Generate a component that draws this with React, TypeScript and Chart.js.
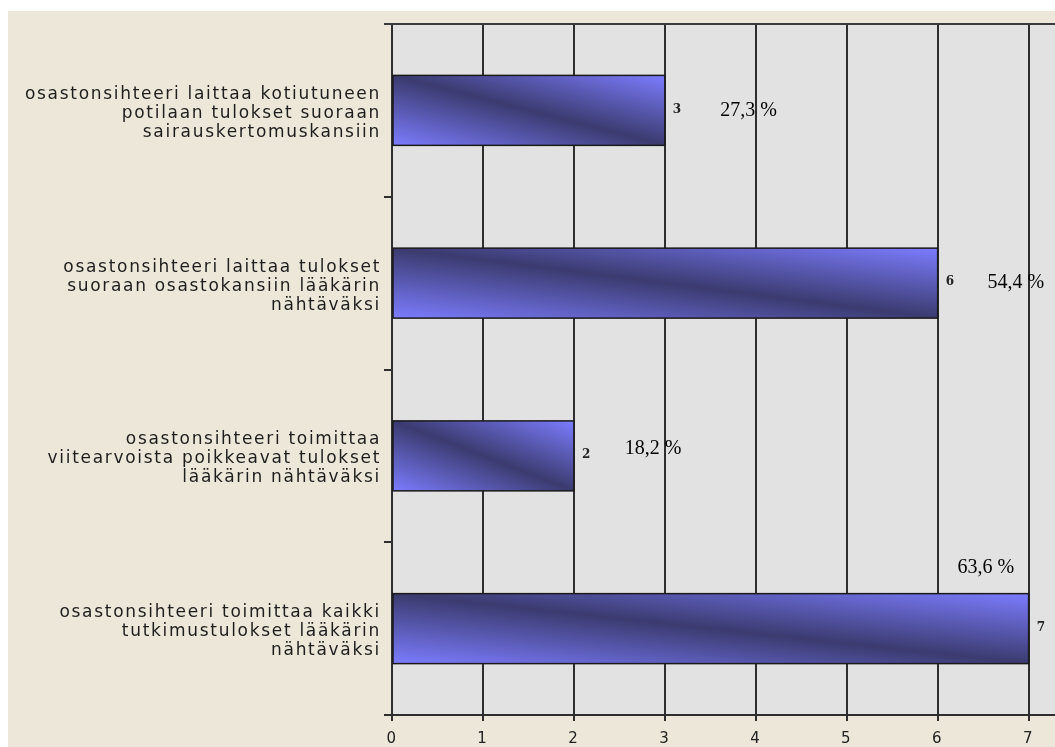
import React, { useEffect, useRef } from 'react';
import { Chart, registerables } from 'chart.js';

Chart.register(...registerables);

// ---- data ----
const categories: string[][] = [
  ['osastonsihteeri laittaa kotiutuneen', 'potilaan tulokset suoraan', 'sairauskertomuskansiin'],
  ['osastonsihteeri laittaa tulokset', 'suoraan osastokansiin lääkärin', 'nähtäväksi'],
  ['osastonsihteeri toimittaa', 'viitearvoista poikkeavat tulokset', 'lääkärin nähtäväksi'],
  ['osastonsihteeri toimittaa kaikki', 'tutkimustulokset lääkärin', 'nähtäväksi'],
];
const counts: number[] = [3, 6, 2, 7];
const percentLabels: string[] = ['27,3 %', '54,4 %', '18,2 %', '63,6 %'];
// anchors of the percent annotations, in axis units (x value, category offset)
const percentAnchorX: number[] = [3.92, 6.86, 2.87, 6.53];
const percentAnchorY: number[] = [0.0, -0.005, -0.04, -0.35];
const xTicks: number[] = [0, 1, 2, 3, 4, 5, 6, 7];
const xMin = 0;
const xMax = 7.29;

const BEIGE = '#ede7d9';
const PLOT_BG = '#e2e2e2';
const LINE = '#2e2e2e';
const LIGHT = '#7c7cff';
const DARK = '#3b3b70';
const LETTER_SPACING = '1.7px';

const plotBgPlugin = {
  id: 'plotBg',
  beforeDraw(chart: any) {
    const { ctx, chartArea } = chart;
    ctx.save();
    ctx.fillStyle = PLOT_BG;
    ctx.fillRect(chartArea.left, chartArea.top, chartArea.right - chartArea.left, chartArea.bottom - chartArea.top);
    ctx.restore();
    ctx.letterSpacing = LETTER_SPACING;
  },
  afterDraw(chart: any) {
    chart.ctx.letterSpacing = '0px';
  },
};

const barsPlugin = {
  id: 'gradBars',
  afterDatasetsDraw(chart: any) {
    const { ctx, chartArea } = chart;
    const meta = chart.getDatasetMeta(0);
    const xs = chart.scales.x;
    const ys = chart.scales.y;
    ctx.save();
    ctx.letterSpacing = '0px';
    meta.data.forEach((el: any, i: number) => {
      const { x, y, base, height } = el.getProps(['x', 'y', 'base', 'height'], true);
      const left = Math.min(x, base);
      const w = Math.abs(x - base);
      const h = height;
      const top = y - h / 2;
      const L = Math.hypot(w, h);
      const t = (w * h) / L;
      const cx = left + w / 2;
      const cy = y;
      const nx = h / L;
      const ny = -w / L;
      const g = ctx.createLinearGradient(cx - nx * t, cy - ny * t, cx + nx * t, cy + ny * t);
      g.addColorStop(0, LIGHT);
      g.addColorStop(0.5, DARK);
      g.addColorStop(1, LIGHT);
      ctx.fillStyle = g;
      ctx.fillRect(left, top, w, h);
      ctx.strokeStyle = '#1a1a1a';
      ctx.lineWidth = 1.5;
      ctx.strokeRect(left, top, w, h);

      // value label
      ctx.fillStyle = '#222';
      ctx.font = 'bold 12px "DejaVu Serif"';
      ctx.textAlign = 'left';
      ctx.textBaseline = 'middle';
      ctx.fillText(String(counts[i]), x + 8, y - 1);

      // percent annotation
      ctx.fillStyle = '#000';
      ctx.font = '20px "Liberation Serif"';
      ctx.textAlign = 'center';
      ctx.fillText(
        percentLabels[i],
        xs.getPixelForValue(percentAnchorX[i]),
        ys.getPixelForValue(i + percentAnchorY[i])
      );
    });
    // top border of the plot
    ctx.strokeStyle = '#3a3a3a';
    ctx.lineWidth = 2;
    ctx.beginPath();
    ctx.moveTo(chartArea.left - 8, chartArea.top);
    ctx.lineTo(chartArea.right, chartArea.top);
    ctx.stroke();
    ctx.restore();
  },
};

export default function App() {
  const ref = useRef<HTMLCanvasElement | null>(null);
  useEffect(() => {
    if (!ref.current) return;
    const chart = new Chart(ref.current, {
      type: 'bar',
      data: {
        labels: categories,
        datasets: [
          {
            data: counts,
            backgroundColor: DARK,
            borderColor: '#1a1a1a',
            borderWidth: 1,
            categoryPercentage: 1,
            barPercentage: 0.405,
          },
        ],
      },
      options: {
        indexAxis: 'y',
        responsive: false,
        animation: false,
        devicePixelRatio: 1,
        layout: { padding: { top: 13, left: 0, right: 0, bottom: 0 } },
        plugins: {
          legend: { display: false },
          tooltip: { enabled: false },
        },
        scales: {
          x: {
            type: 'linear',
            min: xMin,
            max: xMax,
            ticks: {
              color: '#222',
              font: { family: 'DejaVu Sans', size: 15 },
              padding: 9,
            },
            afterBuildTicks(scale: any) {
              scale.ticks = xTicks.map((v) => ({ value: v }));
            },
            afterFit(scale: any) {
              scale.height = 32;
              scale.paddingLeft = 0;
              scale.paddingRight = 0;
            },
            grid: {
              color: LINE,
              lineWidth: 2,
              tickLength: 6,
              tickColor: LINE,
            },
            border: { color: LINE, width: 2 },
          },
          y: {
            type: 'category',
            ticks: {
              color: '#1e1e1e',
              font: { family: 'DejaVu Sans', size: 17, lineHeight: 1.12 },
              padding: 3,
              labelOffset: 3,
            },
            afterFit(scale: any) {
              scale.width = 384;
              scale.paddingTop = 0;
              scale.paddingBottom = 0;
            },
            grid: {
              offset: true,
              drawOnChartArea: false,
              tickLength: 8,
              tickColor: LINE,
              lineWidth: 2,
            },
            border: { color: LINE, width: 2 },
          },
        },
      },
      plugins: [plotBgPlugin, barsPlugin],
    } as any);
    return () => chart.destroy();
  }, []);

  return (
    <div
      style={{
        position: 'fixed',
        left: 8,
        top: 11,
        width: 1047,
        height: 736,
        background: BEIGE,
        overflow: 'hidden',
      }}
    >
      <canvas ref={ref} width={1047} height={736} style={{ display: 'block' }} />
    </div>
  );
}
